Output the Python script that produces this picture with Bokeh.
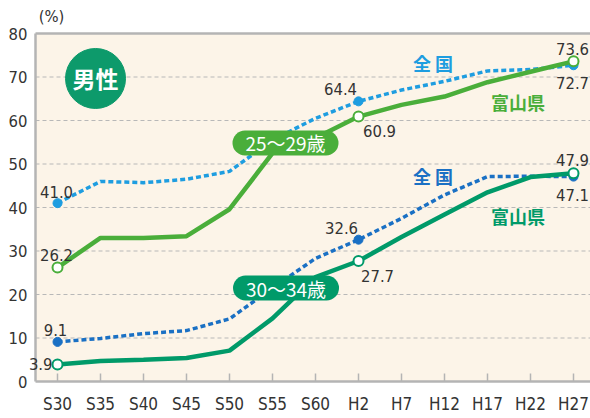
from bokeh.plotting import figure
from bokeh.models import Range1d, FixedTicker, Label
from bokeh.embed import file_html
from bokeh.resources import INLINE
from bokeh.core.properties import value

# ---------------- data ----------------
years = ["S30", "S35", "S40", "S45", "S50", "S55", "S60", "H2", "H7", "H12", "H17", "H22", "H27"]
national_25_29 = [41.0, 46.0, 45.7, 46.5, 48.3, 55.5, 60.5, 64.4, 67.0, 69.0, 71.4, 71.7, 72.7]
toyama_25_29 = [26.2, 33.0, 33.0, 33.4, 39.6, 52.5, 56.0, 60.9, 63.6, 65.5, 68.8, 71.2, 73.6]
national_30_34 = [9.1, 9.9, 11.0, 11.7, 14.4, 21.5, 28.3, 32.6, 37.5, 42.9, 47.1, 47.2, 47.1]
toyama_30_34 = [3.9, 4.7, 5.0, 5.4, 7.1, 14.5, 24.0, 27.7, 33.2, 38.4, 43.5, 47.0, 47.9]
y_ticks = [0, 10, 20, 30, 40, 50, 60, 70, 80]
marked = [0, 7, 12]  # indices with value labels / markers
unit_label = "(%)"
sex_label = "男性"
age_labels = ["25〜29歳", "30〜34歳"]
nat_label = "全 国"
pref_label = "富山県"

# ---------------- styles / layout ----------------
NUM_FONT = "DejaVu Sans Condensed"
JP_FONT = "Noto Sans CJK JP"
TXT = "#333333"
C_NAT1 = "#1e9de0"
C_NAT2 = "#1a70c4"
C_TOY1 = "#4aae3a"
C_TOY2 = "#009a69"
AXIS_C = "#b4b4b4"
BG = "#fcf4e8"
X_LEFT, X_RIGHT = -0.512, 12.395     # edges of the cream plotting box
PX_X, PX_Y = 43.0, 4.35              # pixels per unit
LEFT_PAD, TOP_PAD, BOTTOM_PAD = 35, 33, 37   # px around the plotting box

x = list(range(len(years)))
y_top = y_ticks[-1]

p = figure(width=590, height=418, output_backend="svg", toolbar_location=None,
           x_range=Range1d(X_LEFT - LEFT_PAD / PX_X, X_RIGHT),
           y_range=Range1d(-BOTTOM_PAD / PX_Y, y_top + TOP_PAD / PX_Y),
           min_border=0, min_border_left=0, min_border_right=0,
           min_border_top=0, min_border_bottom=0)
p.background_fill_color = "white"
p.border_fill_color = "white"
p.outline_line_color = None

# cream plotting box
p.quad(left=[X_LEFT], right=[X_RIGHT + 1], bottom=[0], top=[y_top], fill_color=BG,
       line_color=None, level="image")

# axes (placed inside the frame)
p.xaxis.ticker = FixedTicker(ticks=x)
p.xaxis.major_label_overrides = {i: s for i, s in enumerate(years)}
p.xaxis.fixed_location = 0
p.xaxis.bounds = (X_LEFT, X_RIGHT + 1)
p.yaxis.ticker = FixedTicker(ticks=y_ticks)
p.yaxis.fixed_location = X_LEFT
p.yaxis.bounds = (0, y_top)
for ax in (p.xaxis[0], p.yaxis[0]):
    ax.axis_line_color = AXIS_C
    ax.axis_line_width = 2.5
    ax.major_tick_line_color = AXIS_C
    ax.major_tick_line_width = 1.5
    ax.minor_tick_line_color = None
    ax.major_label_text_font = NUM_FONT
    ax.major_label_text_color = TXT
p.xaxis.major_label_text_font_size = "17px"
p.yaxis.major_label_text_font_size = "16.5px"
p.xaxis.major_tick_in = 8
p.xaxis.major_tick_out = 0
p.xaxis.major_label_standoff = 12
p.yaxis.major_tick_in = 0
p.yaxis.major_tick_out = 0
p.yaxis.major_label_standoff = 8

p.xgrid.grid_line_color = None
p.ygrid.grid_line_color = None

# dashed grid lines and top border
g = y_ticks[1:-1]
p.segment(x0=[X_LEFT] * len(g), y0=g, x1=[X_RIGHT + 1] * len(g), y1=g,
          line_color="#b8b8b8", line_dash="4 3", line_width=1)
p.segment(x0=[X_LEFT], y0=[y_top], x1=[X_RIGHT + 1], y1=[y_top],
          line_color=AXIS_C, line_width=2.5)

# lines
p.line(x, national_25_29, line_color=C_NAT1, line_width=3.5, line_dash="5 3")
p.line(x, national_30_34, line_color=C_NAT2, line_width=3.5, line_dash="5 3")
p.line(x, toyama_25_29, line_color=C_TOY1, line_width=4.5)
p.line(x, toyama_30_34, line_color=C_TOY2, line_width=4.5)

# markers
mx = [x[i] for i in marked]
p.scatter(mx, [national_25_29[i] for i in marked], size=9, color=C_NAT1)
p.scatter(mx, [national_30_34[i] for i in marked], size=9, color=C_NAT2)
p.scatter(mx, [toyama_25_29[i] for i in marked], size=10, fill_color="white",
          line_color=C_TOY1, line_width=2)
p.scatter(mx, [toyama_30_34[i] for i in marked], size=10, fill_color="white",
          line_color=C_TOY2, line_width=2)

# value labels (offsets in screen px, positive = up)
label_specs = [
    (national_25_29, 0, "center", -1, 11.5),
    (toyama_25_29, 0, "center", -1, 13),
    (national_30_34, 0, "center", -2, 12.4),
    (toyama_30_34, 0, "right", -5, 0.7),
    (national_25_29, 7, "center", -18, 12),
    (toyama_25_29, 7, "center", 21, -14.7),
    (national_30_34, 7, "center", -17, 12),
    (toyama_30_34, 7, "center", 19, -15),
    (toyama_25_29, 12, "center", -1, 12),
    (national_25_29, 12, "center", -1, -17.6),
    (toyama_30_34, 12, "center", -1, 13.6),
    (national_30_34, 12, "center", -1, -18),
]
for series, i, align, dx, dy in label_specs:
    p.add_layout(Label(x=x[i], y=series[i], text=f"{series[i]:.1f}",
                       x_offset=dx, y_offset=dy, text_align=align,
                       text_baseline="alphabetic", text_font=NUM_FONT,
                       text_font_size="16.5px", text_color=TXT))

# unit label
p.add_layout(Label(x=-0.14, y=y_top, y_offset=17, text=unit_label, text_align="center",
                   text_baseline="middle", text_font=NUM_FONT, text_font_size="16.5px",
                   text_color=TXT))

# 男性 badge
p.scatter([0.884], [69.66], size=60, color="#0d9a6b")
p.text([0.884], [69.66], text=[sex_label], text_align="center", text_baseline="middle",
       text_color="white", text_font=value(JP_FONT), text_font_size="23px",
       text_font_style="bold")

# age pills
pill_half = 0.942
for (cx, cy), lab, col in zip([(5.302, 54.83), (5.314, 21.49)], age_labels, [C_TOY1, C_TOY2]):
    p.segment([cx - pill_half], [cy], [cx + pill_half], [cy], line_color=col,
              line_width=25, line_cap="round")
    p.text([cx], [cy], text=[lab], text_align="center", text_baseline="middle",
           text_color="white", text_font=value(JP_FONT), text_font_size="19px")

# series name labels
for (tx, ty), lab, col in [((8.733, 73.2), nat_label, C_NAT1),
                           ((10.709, 64.2), pref_label, C_TOY1),
                           ((8.733, 47.13), nat_label, C_NAT2),
                           ((10.709, 38.16), pref_label, C_TOY2)]:
    p.text([tx], [ty], text=[lab], text_align="center", text_baseline="middle",
           text_color=col, text_font=value(JP_FONT), text_font_size="18px",
           text_font_style="bold")

open("out.html", "w").write(file_html(p, INLINE))
